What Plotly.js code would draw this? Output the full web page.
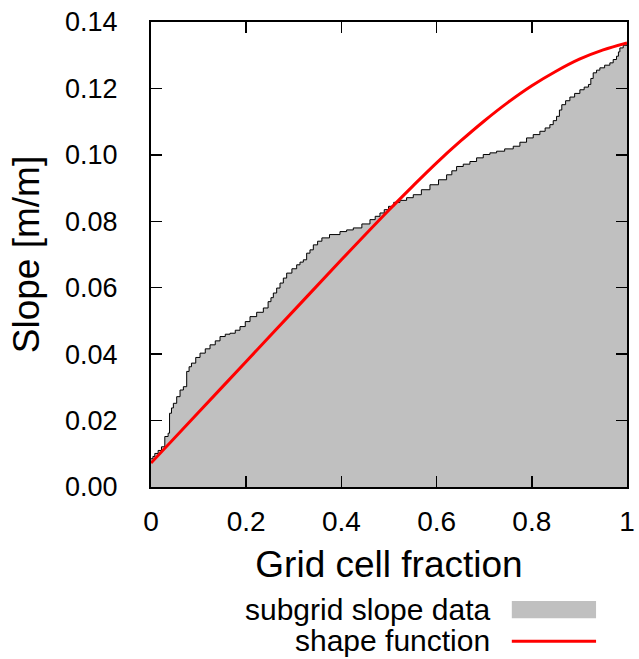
<!DOCTYPE html>
<html>
<head>
<meta charset="utf-8">
<script src="https://cdn.plot.ly/plotly-3.0.1.min.js"></script>
<style>html,body{margin:0;padding:0;background:#fff;}#chart{width:639px;height:659px;}</style>
</head>
<body>
<div id="chart"></div>
<script>
// Subgrid slope data (step curve)
const dataX = [0, 0.004, 0.008, 0.015, 0.022, 0.029, 0.036, 0.039, 0.043, 0.047, 0.054, 0.061, 0.068, 0.075, 0.080, 0.085, 0.094, 0.103, 0.114, 0.124, 0.135, 0.145, 0.156, 0.166, 0.177, 0.187, 0.198, 0.208, 0.222, 0.236, 0.246, 0.252, 0.257, 0.264, 0.271, 0.278, 0.285, 0.296, 0.306, 0.313, 0.320, 0.327, 0.334, 0.341, 0.350, 0.359, 0.375, 0.397, 0.411, 0.425, 0.443, 0.460, 0.471, 0.481, 0.490, 0.499, 0.510, 0.523, 0.537, 0.551, 0.568, 0.586, 0.604, 0.621, 0.632, 0.642, 0.656, 0.670, 0.684, 0.698, 0.712, 0.726, 0.743, 0.761, 0.775, 0.789, 0.803, 0.817, 0.828, 0.838, 0.845, 0.852, 0.858, 0.863, 0.871, 0.880, 0.890, 0.901, 0.910, 0.919, 0.924, 0.929, 0.936, 0.943, 0.953, 0.964, 0.971, 0.978, 0.982, 0.985, 0.992, 1.0];
const dataY = [0.0085, 0.0092, 0.0101, 0.0110, 0.0121, 0.0152, 0.0162, 0.0222, 0.0238, 0.0252, 0.0272, 0.0292, 0.0302, 0.0348, 0.0362, 0.0373, 0.0390, 0.0403, 0.0416, 0.0428, 0.0440, 0.0453, 0.0460, 0.0463, 0.0472, 0.0483, 0.0498, 0.0513, 0.0526, 0.0539, 0.0558, 0.0570, 0.0584, 0.0599, 0.0614, 0.0629, 0.0644, 0.0657, 0.0669, 0.0677, 0.0684, 0.0704, 0.0714, 0.0729, 0.0740, 0.0750, 0.0760, 0.0769, 0.0774, 0.0780, 0.0792, 0.0805, 0.0815, 0.0825, 0.0835, 0.0845, 0.0857, 0.0863, 0.0871, 0.0880, 0.0895, 0.0910, 0.0925, 0.0940, 0.0952, 0.0965, 0.0972, 0.0980, 0.0991, 0.1001, 0.1006, 0.1011, 0.1018, 0.1026, 0.1038, 0.1051, 0.1061, 0.1071, 0.1081, 0.1091, 0.1103, 0.1116, 0.1135, 0.1151, 0.1163, 0.1174, 0.1185, 0.1196, 0.1204, 0.1212, 0.1230, 0.1247, 0.1255, 0.1262, 0.1270, 0.1277, 0.1287, 0.1297, 0.1310, 0.1322, 0.1330, 0.1337];

// Shape function (red curve)
const shapeX = [0, 0.1, 0.2, 0.3, 0.4, 0.5, 0.55, 0.6, 0.65, 0.7, 0.75, 0.8, 0.85, 0.9, 0.95, 1.0];
const shapeY = [0.0072, 0.0225, 0.0378, 0.0531, 0.0684, 0.0834, 0.0906, 0.0976, 0.1041, 0.1102, 0.1158, 0.1208, 0.1251, 0.1288, 0.1316, 0.1337];

const xTicks = [0, 0.2, 0.4, 0.6, 0.8, 1];
const xTickText = ['0', '0.2', '0.4', '0.6', '0.8', '1'];
const yTicks = [0, 0.02, 0.04, 0.06, 0.08, 0.10, 0.12, 0.14];
const yTickText = ['0.00', '0.02', '0.04', '0.06', '0.08', '0.10', '0.12', '0.14'];

const legendLabels = ['subgrid slope data', 'shape function'];
const FONT = 'Liberation Sans, Arial, Helvetica, sans-serif';

const traces = [
  {
    x: dataX, y: dataY, type: 'scatter', mode: 'lines',
    line: {shape: 'hv', color: '#000000', width: 1},
    fill: 'tozeroy', fillcolor: '#c0c0c0',
    name: legendLabels[0], showlegend: false, hoverinfo: 'skip'
  },
  {
    x: shapeX, y: shapeY, type: 'scatter', mode: 'lines',
    line: {shape: 'spline', color: '#ff0000', width: 3},
    name: legendLabels[1], showlegend: false, hoverinfo: 'skip'
  }
];

const layout = {
  width: 639, height: 659,
  margin: {l: 151, r: 12, t: 22, b: 172},
  paper_bgcolor: '#ffffff', plot_bgcolor: '#ffffff',
  font: {family: FONT, color: '#000000'},
  showlegend: false,
  xaxis: {
    range: [0, 1], tickvals: xTicks, ticktext: xTickText,
    ticks: 'inside', ticklen: 11, tickwidth: 1.5, tickcolor: '#000',
    showline: true, linecolor: '#000', linewidth: 2, mirror: 'ticks',
    showgrid: false, zeroline: false,
    tickfont: {size: 28, family: FONT},
    ticklabelstandoff: 8,
    title: {text: 'Grid cell fraction', font: {size: 37, family: FONT}, standoff: 16}
  },
  yaxis: {
    range: [0, 0.14], tickvals: yTicks, ticktext: yTickText,
    ticks: 'inside', ticklen: 11, tickwidth: 1.5, tickcolor: '#000',
    showline: true, linecolor: '#000', linewidth: 2, mirror: 'ticks',
    showgrid: false, zeroline: false,
    tickfont: {size: 27, family: FONT},
    ticklabelstandoff: 26,
    title: {text: 'Slope [m/m]', font: {size: 37, family: FONT}, standoff: 14}
  },
  annotations: [
    {xref: 'paper', yref: 'paper', x: 0.716, y: -0.263, xanchor: 'right', yanchor: 'middle',
     text: legendLabels[0], showarrow: false, font: {size: 30, family: FONT}},
    {xref: 'paper', yref: 'paper', x: 0.716, y: -0.331, xanchor: 'right', yanchor: 'middle',
     text: legendLabels[1], showarrow: false, font: {size: 30, family: FONT}}
  ],
  shapes: [
    {type: 'rect', xref: 'paper', yref: 'paper', x0: 0.758, x1: 0.935, y0: -0.282, y1: -0.245,
     fillcolor: '#c0c0c0', line: {width: 0}},
    {type: 'line', xref: 'paper', yref: 'paper', x0: 0.758, x1: 0.935, y0: -0.3315, y1: -0.3315,
     line: {color: '#ff0000', width: 3}}
  ]
};

Plotly.newPlot('chart', traces, layout, {staticPlot: true, displayModeBar: false});
</script>
</body>
</html>
